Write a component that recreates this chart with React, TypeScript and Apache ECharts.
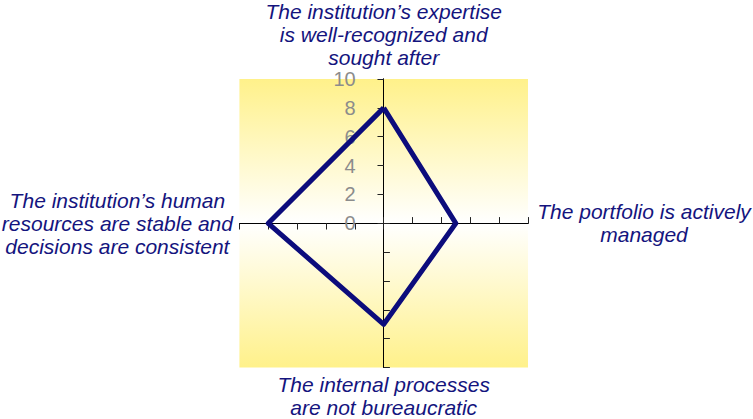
import React, { useEffect, useRef } from "react";
import * as echarts from "echarts";

const axisNames = [
  "The institution’s expertise\nis well-recognized and\nsought after",
  "The institution’s human\nresources are stable and\ndecisions are consistent",
  "The internal processes\nare not bureaucratic",
  "The portfolio is actively\nmanaged",
];
const scores = [8, 8, 7, 5];
const axisMax = 10;
const nameGaps = [39, 122, 28, 116];

export default function App() {
  const ref = useRef<HTMLDivElement>(null);
  useEffect(() => {
    if (!ref.current) return;
    const chart = echarts.init(ref.current, null, { renderer: "svg" });
    const cx = 383.7;
    const cy = 223.3;
    const r = 144.3;
    const font = "'Liberation Sans', Arial, sans-serif";
    const baseRadar = {
      center: [cx, cy],
      radius: r,
      startAngle: 90,
      shape: "polygon",
      splitNumber: 5,
      splitLine: { show: false },
      splitArea: { show: false },
      axisLine: { show: true, lineStyle: { color: "#000", width: 1 } },
    };
    chart.setOption({
      animation: false,
      graphic: [
        {
          type: "rect",
          z: -10,
          silent: true,
          shape: { x: cx - r, y: cy - r, width: 2 * r, height: 2 * r },
          style: {
            fill: new echarts.graphic.LinearGradient(0, 0, 0, 1, [
              { offset: 0, color: "#FFF18A" },
              { offset: 0.5, color: "#FFFFFF" },
              { offset: 1, color: "#FFF18A" },
            ]),
          },
        },
      ],
      radar: [
        {
          ...baseRadar,
          axisTick: { show: true, length: 6, lineStyle: { color: "#222" } },
          axisLabel: { show: false },
          axisName: {
            show: true,
            color: "#14147E",
            fontSize: 21,
            fontStyle: "italic",
            fontFamily: font,
            lineHeight: 23,
            align: "center",
            verticalAlign: "middle",
          },
          indicator: axisNames.map((n, i) => ({
            name: n,
            min: 0,
            max: axisMax,
            nameGap: nameGaps[i],
            axisLabel:
              i === 0
                ? {
                    show: true,
                    color: "#8C8C8C",
                    fontSize: 20,
                    fontFamily: font,
                    margin: 28,
                    showMinLabel: true,
                    showMaxLabel: true,
                  }
                : { show: false },
          })),
        },
        {
          ...baseRadar,
          axisTick: { show: true, inside: true, length: 6, lineStyle: { color: "#222" } },
          axisLabel: { show: false },
          axisName: { show: false },
          indicator: axisNames.map(() => ({ name: "", min: 0, max: axisMax })),
        },
      ],
      series: [
        {
          type: "radar",
          radarIndex: 0,
          symbol: "none",
          lineStyle: { color: "#0C0C7C", width: 5 },
          data: [{ value: scores, name: "Score" }],
        },
      ],
    });
    return () => chart.dispose();
  }, []);
  return (
    <div
      ref={ref}
      style={{ position: "absolute", left: 0, top: 0, width: 753, height: 419 }}
    />
  );
}
